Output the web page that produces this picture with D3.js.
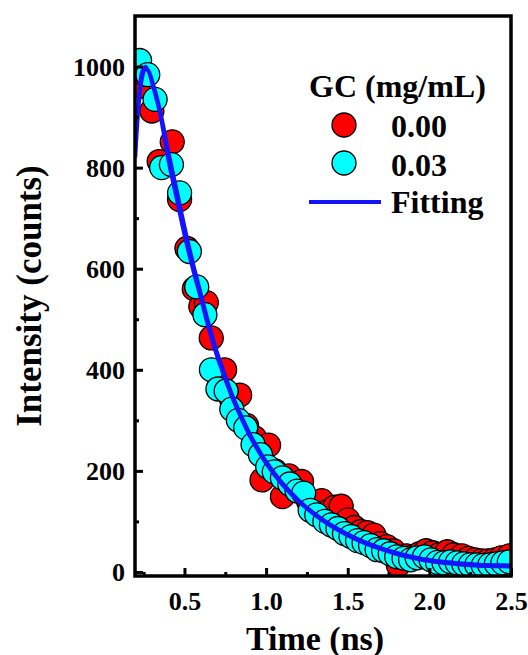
<!DOCTYPE html>
<html>
<head>
<meta charset="utf-8">
<script src="https://cdn.jsdelivr.net/npm/d3@7"></script>
<style>
  body { margin: 0; background: #fff; }
  text { font-family: "Liberation Serif", "Times New Roman", serif; font-weight: bold; fill: #000; }
</style>
</head>
<body>
<script>
// data
var time00 = [0.215,0.255,0.30,0.345,0.425,0.47,0.515,0.56,0.60,0.634,0.664,0.705,0.746,0.79,0.838,0.88,0.93,0.975,1.015,1.055,1.10,1.14,1.18,1.217,1.26,1.30,1.34,1.38,1.42,1.46,1.50,1.54,1.58,1.62,1.66,1.70,1.74,1.78,1.81,1.86,1.90,1.94,1.98,2.02,2.06,2.11,2.15,2.20,2.24,2.28,2.32,2.36,2.40,2.44,2.49];
var int00  = [960,985,912,812,851,737,640,560,525,533,463,395,400,340,350,290,265,182,251,200,149,190,170,179,140,135,141,120,128,130,103,88,80,78,73,56,50,42,14,32,30,36,42,38,34,40,34,32,27,24,22,22,24,28,32];

var time03 = [0.225,0.275,0.32,0.36,0.42,0.47,0.53,0.575,0.625,0.665,0.705,0.755,0.79,0.83,0.875,0.92,0.965,1.01,1.05,1.10,1.145,1.19,1.23,1.27,1.31,1.36,1.40,1.44,1.48,1.52,1.56,1.60,1.64,1.68,1.72,1.76,1.80,1.845,1.885,1.925,1.97,2.01,2.05,2.09,2.13,2.17,2.21,2.25,2.29,2.33,2.37,2.41,2.45,2.49];
var int03  = [1012,984,935,800,806,750,634,564,509,400,362,358,322,300,285,252,232,208,198,186,174,160,156,122,113,100,93,86,76,70,62,58,52,44,42,36,30,27,24,28,30,24,19,18,20,18,16,14,14,13,14,16,18,20];

var fitTime = [0.20,0.22,0.24,0.26,0.28,0.30,0.35,0.40,0.45,0.50,0.55,0.60,0.65,0.70,0.75,0.80,0.85,0.90,0.95,1.00,1.10,1.20,1.30,1.40,1.50,1.60,1.70,1.80,1.90,2.00,2.10,2.20,2.30,2.40,2.50];
var fit00   = [820,920,975,995,992,975,915,835,760,685,615,552,490,435,388,345,308,274,245,219,176,142,115,93,75,60,48,38,30,24,20,17,15,14,13];
var fit03   = [855,940,990,1000,990,968,905,815,740,665,600,540,478,425,380,338,302,268,240,214,172,139,112,90,72,57,45,35,27,21,17,14,12,11,10];

var xMajor = [0.5,1.0,1.5,2.0,2.5];
var xMinor = [0.25,0.75,1.25,1.75,2.25];
var yMajor = [0,200,400,600,800,1000];
var yMinor = [100,300,500,700,900];

var legendLabels = ["0.00","0.03","Fitting"];

var W = 528, H = 655;
var pL = 135, pT = 16, pR = 511, pB = 576;

var x = d3.scaleLinear().domain([0.2, 2.5]).range([135.5, pR]);
var y = d3.scaleLinear().domain([-8, 1100]).range([pB, pT]);

var svg = d3.select("body").append("svg")
    .attr("width", W)
    .attr("height", H);

svg.append("clipPath").attr("id", "plot")
  .append("rect")
    .attr("x", pL).attr("y", pT)
    .attr("width", pR - pL).attr("height", pB - pT);

var plot = svg.append("g").attr("clip-path", "url(#plot)");

//scatter points, red under cyan
function dots(times, vals, color) {
  plot.append("g").selectAll("circle")
      .data(times)
    .enter().append("circle")
      .attr("cx", function(d) { return x(d); })
      .attr("cy", function(d, i) { return y(vals[i]); })
      .attr("r", 12)
      .style("fill", color)
      .style("stroke", "#000")
      .style("stroke-width", 1.3);
}
dots(time00, int00, "#ff0000");
dots(time03, int03, "#00ffff");

//fitting curves
var line = d3.line()
    .x(function(d) { return x(d[0]); })
    .y(function(d) { return y(d[1]); })
    .curve(d3.curveCatmullRom);

[fit00, fit03].forEach(function(f) {
  plot.append("path")
      .attr("d", line(fitTime.map(function(t, i) { return [t, f[i]]; })))
      .style("fill", "none")
      .style("stroke", "#1414ff")
      .style("stroke-width", 3.5);
});

//axes with inward ticks
svg.append("g").attr("transform", "translate(0," + pB + ")")
    .call(d3.axisBottom(x).tickValues(xMajor).tickSizeInner(-8).tickSizeOuter(0).tickPadding(16).tickFormat(d3.format(".1f")));
svg.append("g").attr("transform", "translate(0," + pB + ")")
    .call(d3.axisBottom(x).tickValues(xMinor).tickSizeInner(-4).tickSizeOuter(0).tickFormat(""));
var yAxis = svg.append("g").attr("transform", "translate(" + pL + ",0)")
    .call(d3.axisLeft(y).tickValues(yMajor).tickSizeInner(-8).tickSizeOuter(0).tickPadding(10).tickFormat(d3.format("d")));
svg.append("g").attr("transform", "translate(" + pL + ",0)")
    .call(d3.axisLeft(y).tickValues(yMinor).tickSizeInner(-4).tickSizeOuter(0).tickFormat(""));

svg.selectAll(".tick line").style("stroke", "#000").style("stroke-width", 3);
svg.selectAll(".domain").remove();
svg.selectAll(".tick text")
    .style("font-size", "26px")
    .style("font-family", "'Liberation Serif', serif")
    .style("font-weight", "bold")
    .style("fill", "#000");
yAxis.selectAll(".tick text").attr("dy", "0.34em");

//frame
svg.append("rect")
    .attr("x", pL).attr("y", pT)
    .attr("width", pR - pL).attr("height", pB - pT)
    .style("fill", "none")
    .style("stroke", "#000")
    .style("stroke-width", 3.5);

//axis titles
svg.append("text")
    .attr("x", 315).attr("y", 650)
    .attr("text-anchor", "middle")
    .style("font-size", "34px")
    .text("Time (ns)");

svg.append("text")
    .attr("transform", "translate(41,296) rotate(-90)")
    .attr("text-anchor", "middle")
    .style("font-size", "35px")
    .text("Intensity (counts)");

//legend
var lg = svg.append("g");
lg.append("text").attr("x", 309).attr("y", 97).style("font-size", "32px").text("GC (mg/mL)");
lg.append("circle").attr("cx", 344).attr("cy", 125).attr("r", 12)
    .style("fill", "#ff0000").style("stroke", "#000").style("stroke-width", 1.3);
lg.append("circle").attr("cx", 344).attr("cy", 163).attr("r", 12)
    .style("fill", "#00ffff").style("stroke", "#000").style("stroke-width", 1.3);
lg.append("line").attr("x1", 309).attr("x2", 381).attr("y1", 202).attr("y2", 202)
    .style("stroke", "#1414ff").style("stroke-width", 4);
lg.selectAll("text.lab")
    .data(legendLabels)
  .enter().append("text")
    .attr("class", "lab")
    .attr("x", 391)
    .attr("y", function(d, i) { return [137, 176, 213][i]; })
    .style("font-size", "32px")
    .text(function(d) { return d; });
</script>
</body>
</html>
